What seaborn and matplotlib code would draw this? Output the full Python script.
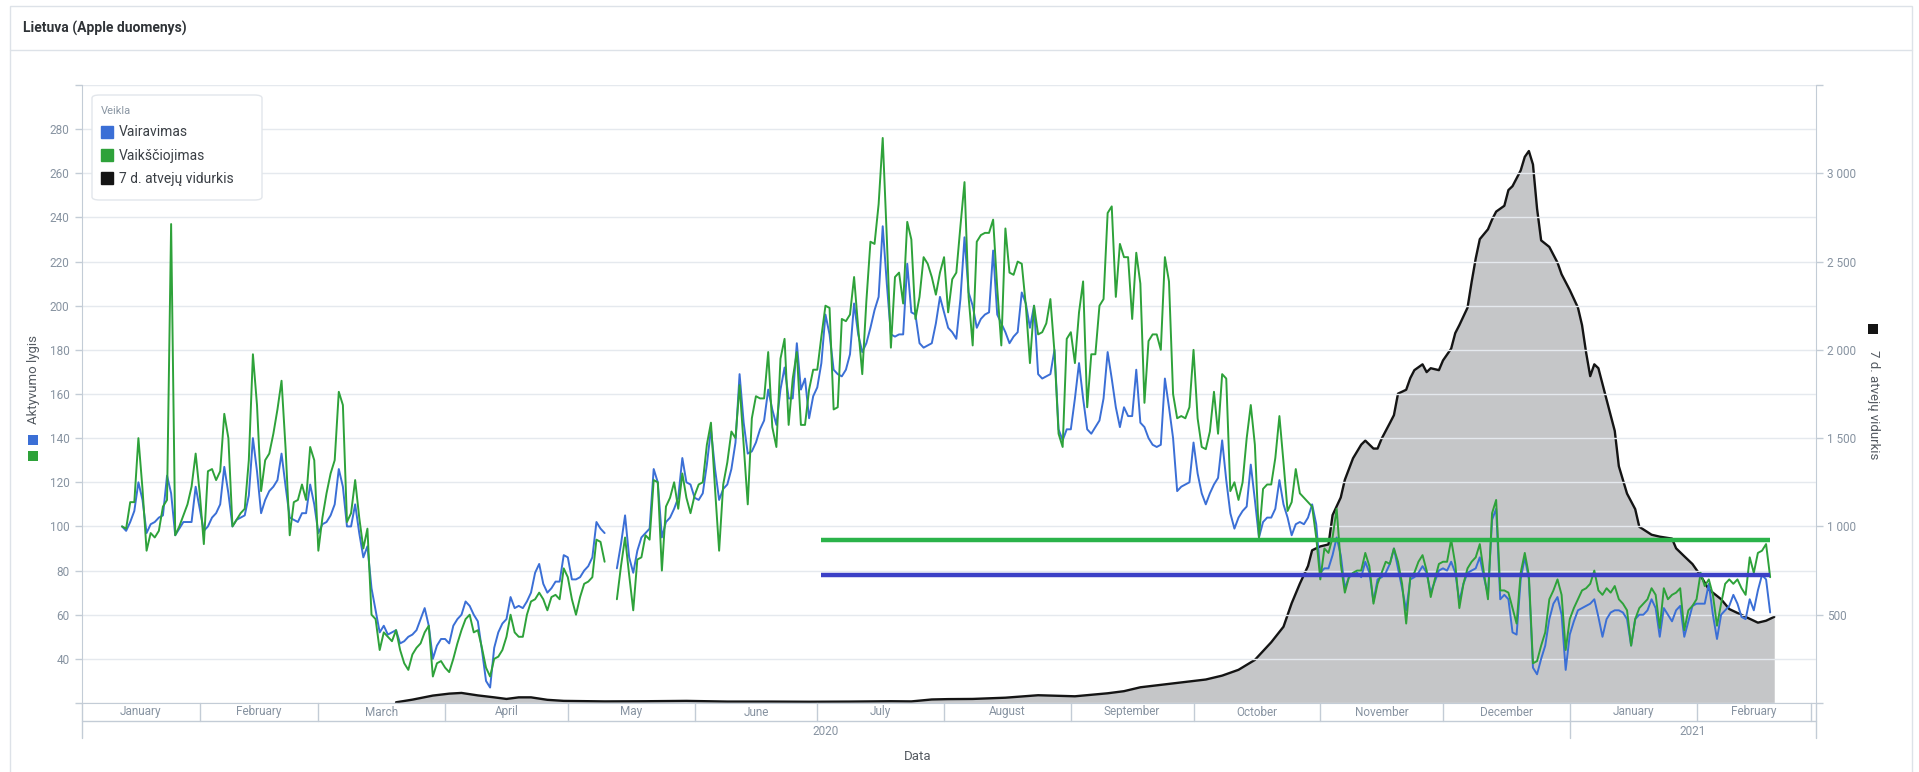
import numpy as np
import pandas as pd
import seaborn as sns
import matplotlib.pyplot as plt
from matplotlib.lines import Line2D
from matplotlib.patches import Rectangle, FancyBboxPatch
from matplotlib.ticker import FuncFormatter

# Apple mobility index, daily from 2020-01-13 (rows = weeks Mon..Sun); nan = no data
driving = [
    100, 98, 102, 107, 120, 112, 97,
    101, 102, 104, 105, 123, 115, 96,
    99, 102, 102, 102, 118, 108, 98,
    100, 104, 106, 110, 127, 115, 100,
    103, 104, 105, 114, 140, 125, 106,
    112, 116, 118, 121, 133, 118, 104,
    103, 102, 106, 106, 119, 110, 97,
    101, 102, 105, 110, 126, 118, 100,
    100, 110, 97, 86, 91, 72, 62,
    52, 55, 51, 52, 53, 47, 48,
    50, 51, 53, 58, 63, 55, 40,
    46, 49, 49, 47, 55, 58, 60,
    66, 64, 60, 57, 44, 30, 27,
    45, 52, 56, 58, 68, 63, 64,
    63, 66, 70, 79, 83, 74, 70,
    72, 75, 75, 87, 86, 76, 76,
    77, 80, 82, 86, 102, 99, 97,
    np.nan, np.nan, 81, 92, 105, 86, 79,
    89, 95, 97, 99, 126, 120, 95,
    102, 104, 108, 113, 131, 120, 119,
    113, 112, 115, 128, 144, 126, 112,
    117, 119, 126, 138, 169, 147, 133,
    134, 138, 144, 148, 162, 153, 146,
    162, 172, 158, 158, 183, 162, 167,
    149, 159, 163, 174, 196, 187, 171,
    169, 168, 171, 178, 201, 187, 179,
    183, 190, 198, 204, 236, 210, 187,
    186, 187, 187, 219, 197, 196, 183,
    181, 182, 183, 192, 204, 197, 190,
    188, 185, 203, 231, 206, 200, 190,
    194, 196, 197, 225, 196, 192, 188,
    183, 186, 188, 206, 201, 190, 200,
    169, 167, 168, 169, 180, 144, 139,
    144, 144, 158, 174, 158, 144, 142,
    145, 148, 158, 179, 167, 154, 145,
    154, 150, 150, 171, 147, 145, 140,
    137, 136, 137, 167, 154, 140, 116,
    118, 119, 120, 138, 124, 115, 110,
    115, 119, 122, 139, 121, 106, 99,
    104, 107, 109, 128, 112, 95, 102,
    104, 104, 108, 121, 110, 104, 96,
    101, 102, 101, 104, 110, 101, 79,
    81, 81, 87, 95, 87, 72, 77,
    78, 79, 77, 84, 79, 66, 76,
    77, 79, 83, 90, 81, 72, 62,
    76, 77, 79, 82, 79, 70, 75,
    80, 81, 80, 84, 79, 66, 74,
    79, 80, 81, 86, 77, 69, 103,
    108, 67, 69, 67, 52, 51, 76,
    86, 76, 36, 33, 40, 46, 58,
    65, 68, 60, 35, 51, 57, 62,
    63, 64, 65, 67, 59, 50, 58,
    61, 62, 62, 61, 58, 46, 58,
    60, 60, 62, 67, 63, 50, 63,
    60, 57, 62, 64, 50, 57, 64,
    65, 65, 65, 74, 60, 49, 60,
    62, 64, 69, 65, 59, 58, 67,
    62, 71, 78, 76, 61,
]

walking = [
    100, 99, 111, 111, 140, 117, 89,
    97, 95, 98, 109, 112, 237, 96,
    100, 105, 110, 118, 133, 115, 92,
    125, 126, 121, 125, 151, 140, 100,
    103, 106, 108, 130, 178, 155, 116,
    130, 133, 142, 153, 166, 135, 96,
    111, 112, 119, 112, 136, 130, 89,
    104, 115, 124, 130, 161, 155, 102,
    106, 121, 104, 90, 99, 60, 58,
    44, 52, 50, 48, 53, 44, 38,
    35, 42, 45, 47, 52, 55, 32,
    38, 39, 36, 34, 40, 47, 53,
    58, 60, 52, 53, 45, 36, 32,
    40, 41, 44, 50, 60, 52, 50,
    50, 60, 66, 67, 70, 67, 62,
    68, 69, 67, 81, 77, 67, 60,
    68, 74, 75, 77, 94, 93, 84,
    np.nan, np.nan, 67, 82, 95, 78, 62,
    85, 86, 96, 94, 121, 120, 80,
    109, 113, 120, 108, 124, 113, 106,
    114, 119, 120, 137, 147, 117, 89,
    119, 129, 143, 140, 164, 137, 110,
    149, 159, 158, 158, 179, 145, 136,
    176, 185, 146, 167, 179, 146, 146,
    162, 171, 171, 186, 200, 199, 153,
    154, 194, 193, 196, 213, 190, 169,
    202, 229, 228, 246, 276, 231, 181,
    213, 215, 201, 238, 230, 194, 204,
    222, 219, 213, 205, 215, 222, 197,
    212, 215, 236, 256, 204, 182, 229,
    232, 233, 233, 239, 208, 182, 235,
    215, 214, 220, 219, 200, 174, 200,
    187, 188, 192, 203, 179, 142, 136,
    185, 188, 174, 197, 211, 154, 178,
    178, 200, 203, 242, 245, 204, 228,
    222, 222, 194, 224, 210, 156, 184,
    187, 187, 180, 222, 211, 160, 149,
    150, 149, 154, 180, 149, 136, 135,
    143, 161, 142, 169, 167, 116, 120,
    112, 120, 140, 155, 137, 95, 117,
    119, 119, 131, 150, 129, 107, 111,
    126, 115, 113, 111, 109, 95, 76,
    90, 88, 95, 108, 83, 70, 77,
    79, 80, 80, 88, 82, 65, 74,
    79, 84, 83, 90, 84, 74, 56,
    77, 79, 84, 87, 80, 68, 76,
    83, 84, 84, 94, 83, 63, 74,
    81, 84, 86, 92, 79, 67, 106,
    112, 71, 71, 70, 63, 56, 79,
    88, 78, 38, 39, 46, 52, 67,
    71, 76, 69, 44, 58, 63, 67,
    71, 72, 74, 80, 71, 69, 72,
    70, 73, 67, 65, 62, 46, 58,
    63, 65, 67, 72, 69, 54, 72,
    67, 69, 70, 72, 53, 62, 64,
    67, 79, 73, 76, 69, 55, 65,
    74, 76, 74, 76, 72, 69, 86,
    79, 88, 89, 92, 77,
]

# 7-day average of new cases, day numbers counted from 2020-01-01
case_day = [79, 83, 88, 92, 95, 99, 103, 106, 109, 112, 116, 120, 130, 140, 150,
            160, 170, 180, 190, 200, 205, 210, 214, 220, 228, 236, 245, 253, 257,
            261, 265, 269, 273, 277, 281, 285, 289, 293, 296, 298, 300, 302, 303,
            305, 307, 308, 310, 311, 313, 315, 316, 318, 319, 320, 322, 323, 324,
            326, 327, 328, 330, 331, 332, 334, 335, 337, 338, 339, 341, 342, 343,
            344, 346, 347, 348, 350, 351, 352, 354, 355, 356, 357, 358, 359, 361,
            363, 364, 366, 368, 369, 370, 371, 372, 373, 375, 377, 378, 380, 382,
            383, 386, 388, 391, 392, 394, 396, 398, 400, 403, 405, 408, 410, 412,
            414, 416]
case_avg = [4, 19, 42, 53, 57, 43, 32, 23, 32, 32, 18, 12, 9, 10, 12,
            8, 8, 7, 8, 10, 9, 20, 22, 23, 30, 44, 38, 55, 67,
            89, 100, 111, 122, 133, 155, 188, 244, 344, 432, 565, 676, 776, 865,
            887, 898, 1064, 1164, 1264, 1386, 1463, 1486, 1441, 1441, 1497, 1585, 1630, 1752,
            1774, 1840, 1885, 1918, 1874, 1896, 1885, 1940, 2007, 2095, 2140, 2239, 2384, 2517,
            2627, 2683, 2738, 2783, 2816, 2905, 2927, 3016, 3093, 3126, 3050, 2800, 2620, 2583,
            2494, 2428, 2339, 2239, 2140, 1984, 1851, 1918, 1896, 1718, 1541, 1341, 1186, 1098,
            998, 953, 942, 931, 876, 831, 787, 721, 643, 588, 532, 499, 477, 455,
            466, 488]

# reference levels drawn from July 2020
ref_start, ref_end = '2020-07-02', '2021-02-19'
ref_walking = 93.7
ref_driving = 78.0

month_labels = ['January', 'February', 'March', 'April', 'May', 'June', 'July',
                'August', 'September', 'October', 'November', 'December',
                'January', 'February']
year_labels = ['2020', '2021']

colors = {'Vairavimas': '#3b6fd6', 'Vaikščiojimas': '#2ea23a'}

W, H = 1919, 772
sns.set_style('white')
plt.rcParams['font.family'] = ['Roboto', 'DejaVu Sans']

dates = pd.date_range('2020-01-13', periods=len(driving), freq='D')
df = pd.DataFrame({'Data': dates, 'Vairavimas': driving, 'Vaikščiojimas': walking})
df['seg'] = (df['Data'] > '2020-05-12').astype(int)
long = df.melt(id_vars=['Data', 'seg'], var_name='Veikla', value_name='Aktyvumo lygis').dropna()

cases = pd.DataFrame({'Data': pd.Timestamp('2020-01-01') + pd.to_timedelta(case_day, unit='D'),
                      'Atvejai': case_avg})

fig = plt.figure(figsize=(W / 100, H / 100), dpi=100)
ax = fig.add_axes([82 / W, 1 - 703 / H, (1816 - 82) / W, (703 - 85) / H])
ax2 = ax.twinx()
ax.set_zorder(ax2.get_zorder() + 1)
ax.patch.set_visible(False)

# cases area on the right axis
ax2.fill_between(cases['Data'], 0, cases['Atvejai'], color='#c5c6c8', lw=0)
sns.lineplot(data=cases, x='Data', y='Atvejai', color='#141414', lw=1.7, ax=ax2)

# activity lines
sns.lineplot(data=long, x='Data', y='Aktyvumo lygis', hue='Veikla', units='seg',
             estimator=None, palette=colors, lw=1.4, legend=False, ax=ax)
ax.hlines(ref_walking, pd.Timestamp(ref_start), pd.Timestamp(ref_end), color='#2bb34a', lw=3.2)
ax.hlines(ref_driving, pd.Timestamp(ref_start), pd.Timestamp(ref_end), color='#3b40c6', lw=3.2)

xmin, xmax = pd.Timestamp('2020-01-03 05:00'), pd.Timestamp('2021-03-02 05:00')
ax.set_xlim(xmin, xmax)
ax.set_ylim(20, 300)
ax2.set_ylim(0, 3500)

axis_col = '#c3ccd6'
tick_col = '#8793a1'
ax.set_yticks(range(20, 301, 20))
ax.yaxis.set_major_formatter(FuncFormatter(lambda v, p: '' if v in (20, 300) else f'{int(v)}'))
ax2.set_yticks(range(0, 3501, 500))
ax2.yaxis.set_major_formatter(
    FuncFormatter(lambda v, p: '' if v in (0, 3500) else f'{int(v):,}'.replace(',', ' ')))
ax.grid(axis='y', color='#e5e9ee', lw=1)
ax.grid(axis='x', visible=False)
ax2.grid(False)
ax.tick_params(axis='y', length=5, width=1, color=axis_col, labelcolor=tick_col, labelsize=8.5, pad=4)
ax2.tick_params(axis='y', length=5, width=1, color=axis_col, labelcolor=tick_col, labelsize=8.5, pad=3)
ax.set_xticks([])
ax.set_xlabel('')
ax.set_ylabel('')
ax2.set_ylabel('')
ax2.set_xlabel('')

for s in ['top', 'right']:
    ax.spines[s].set_visible(False)
for s in ['top', 'left', 'bottom']:
    ax2.spines[s].set_visible(False)
ax.spines['left'].set_color(axis_col)
ax.spines['bottom'].set_color(axis_col)
ax2.spines['right'].set_color(axis_col)

# two level date axis
tr = ax.get_xaxis_transform()
row1, row2 = -18 / 618, -35 / 618
bounds = [xmin] + list(pd.date_range('2020-02-01', '2021-03-01', freq='MS')) + [xmax]
for b in bounds[1:-1]:
    ax.plot([b, b], [0, row1], transform=tr, color=axis_col, lw=1, clip_on=False)
for i, name in enumerate(month_labels):
    mid = bounds[i] + (bounds[i + 1] - bounds[i]) / 2
    ax.text(mid, row1 / 2, name, transform=tr, ha='center', va='center',
            fontsize=8.5, color=tick_col)
ax.plot([0, 1], [row1, row1], transform=ax.transAxes, color=axis_col, lw=1, clip_on=False)
ysplit = pd.Timestamp('2021-01-01')
ax.plot([0, 0], [0, row2], transform=ax.transAxes, color=axis_col, lw=1, clip_on=False)
ax.plot([1, 1], [0, row2], transform=ax.transAxes, color=axis_col, lw=1, clip_on=False)
ax.plot([ysplit, ysplit], [row1, row2], transform=tr, color=axis_col, lw=1, clip_on=False)
ax.text(xmin + (ysplit - xmin) / 2, (row1 + row2) / 2 - 0.004, year_labels[0], transform=tr,
        ha='center', va='center', fontsize=8.5, color=tick_col)
ax.text(ysplit + (xmax - ysplit) / 2, (row1 + row2) / 2 - 0.004, year_labels[1], transform=tr,
        ha='center', va='center', fontsize=8.5, color=tick_col)

fig.text(918 / W, 1 - 757 / H, 'Data', ha='center', va='center', fontsize=9.5, color='#555b62')

# axis titles with coloured squares
fig.text(33 / W, 1 - 379 / H, 'Aktyvumo lygis', rotation=90, ha='center', va='center',
         fontsize=9.5, color='#555b62')
fig.add_artist(Rectangle((28 / W, 1 - 445 / H), 10 / W, 10 / H, transform=fig.transFigure,
                         color=colors['Vairavimas'], lw=0))
fig.add_artist(Rectangle((28 / W, 1 - 461 / H), 10 / W, 10 / H, transform=fig.transFigure,
                         color=colors['Vaikščiojimas'], lw=0))
fig.text(1873 / W, 1 - 405 / H, '7 d. atvejų vidurkis', rotation=-90, ha='center', va='center',
         fontsize=9.5, color='#555b62')
fig.add_artist(Rectangle((1868 / W, 1 - 334 / H), 10 / W, 10 / H, transform=fig.transFigure,
                         color='#141414', lw=0))

# legend: white rounded box plus figure legend on top of it
fig.add_artist(FancyBboxPatch((92 / W, 1 - 200 / H), 170 / W, 105 / H,
                              boxstyle='round,pad=0,rounding_size=0.004',
                              transform=fig.transFigure, fc='white', ec='#e2e6eb', lw=1, zorder=4))
handles = [Line2D([], [], marker='s', ls='none', ms=8, color=colors['Vairavimas']),
           Line2D([], [], marker='s', ls='none', ms=8, color=colors['Vaikščiojimas']),
           Line2D([], [], marker='s', ls='none', ms=8, color='#141414')]
leg = fig.legend(handles, ['Vairavimas', 'Vaikščiojimas', '7 d. atvejų vidurkis'],
                 title='Veikla', loc='upper left', bbox_to_anchor=(101 / W, 1 - 106 / H),
                 borderaxespad=0, borderpad=0, frameon=False, fontsize=10, title_fontsize=8,
                 alignment='left', handlelength=0.8, handletextpad=0.5, labelspacing=0.68)
leg.set_zorder(5)
leg.get_title().set_color('#8a96a3')
for t in leg.get_texts():
    t.set_color('#3a3f45')

# card frame and title
fig.add_artist(Rectangle((10 / W, -0.02), 1902 / W, (772 - 6) / H + 0.02, transform=fig.transFigure,
                         fill=False, ec='#dde2e8', lw=1))
fig.add_artist(Line2D([10 / W, 1912 / W], [1 - 50 / H, 1 - 50 / H], transform=fig.transFigure,
                      color='#dde2e8', lw=1))
fig.text(23 / W, 1 - 28 / H, 'Lietuva (Apple duomenys)', ha='left', va='center',
         fontsize=10, fontweight='bold', color='#2f3337')

fig.savefig('out.png', dpi=100)
